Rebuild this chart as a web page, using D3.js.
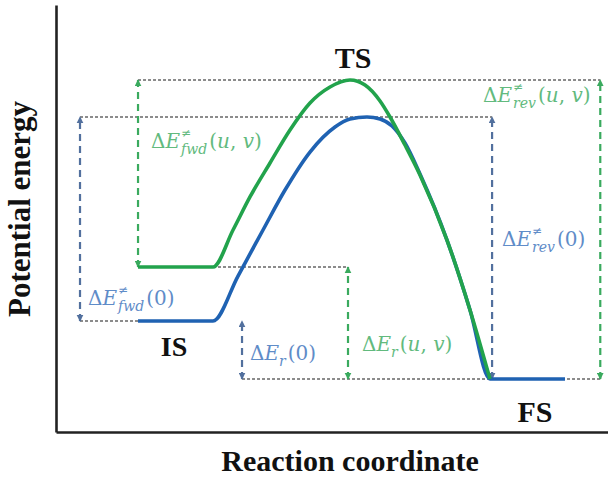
<!DOCTYPE html>
<html><head><meta charset="utf-8">
<script src="https://cdn.jsdelivr.net/npm/d3@7"></script>
<style>body{margin:0;background:#fff}</style></head><body>
<svg id="c" width="608" height="477"></svg>
<script>
// ---- data ----
const xTitle = "Reaction coordinate";
const yTitle = "Potential energy";
const stateNames = ["IS", "TS", "FS"];
// blue curve (u,v = 0)
const blueX = [14.86, 28.44, 32.97, 37.5, 41.49, 46.01, 50.54, 53.26, 56.34, 58.70, 60.87, 63.22, 65.94, 70.83, 75.0, 78.62, 92.21];
const blueE = [26.0, 26.0, 36.53, 47.31, 56.67, 65.57, 71.43, 73.30, 73.77, 73.30, 71.66, 67.68, 60.42, 44.96, 28.57, 12.41, 12.41];
// green curve (u,v)
const greenX = [14.86, 28.44, 32.07, 35.14, 38.77, 42.39, 46.01, 49.64, 53.26, 55.98, 58.70, 60.51, 63.22, 65.94, 70.83, 75.0, 78.62];
const greenE = [38.64, 38.64, 47.31, 55.04, 63.0, 70.73, 77.05, 80.80, 82.44, 81.26, 77.52, 73.77, 67.21, 60.19, 44.96, 28.57, 12.41];
// arrows: x position, from level, to level
const arrowSeries = ["blue", "green", "blue", "green", "blue", "green"];
const arrowX = [4.35, 14.86, 33.7, 52.9, 79.0, 98.6];
const arrowFrom = [26.0, 38.64, 12.41, 12.41, 12.41, 12.41];
const arrowTo = [73.77, 82.44, 26.0, 38.64, 73.77, 82.44];
// dotted reference lines
const refE = [82.44, 73.77, 38.64, 26.0, 12.41];
const refX0 = [14.86, 4.35, 28.44, 4.35, 33.7];
const refX1 = [98.6, 79.0, 52.9, 14.86, 98.6];
// labels
const labelSup = ["≠", "≠", "", "", "≠", "≠"];
const labelSub = ["fwd", "fwd", "r", "r", "rev", "rev"];
const labelArg = ["uv", "0", "0", "uv", "uv", "0"];
const labelSeries = ["green", "blue", "blue", "green", "green", "blue"];

// ---- layout ----
const svg = d3.select("#c");
const x = d3.scaleLinear().domain([0, 100]).range([56, 608]);
const y = d3.scaleLinear().domain([0, 100]).range([432, 5]);
const col = {blue: "#1f62b2", green: "#22a34c"};
const dashCol = {blue: "#52709e", green: "#3aaa5e"};
const txtCol = {blue: "#5f8cc8", green: "#62ba7e"};

const defs = svg.append("defs");
["blue", "green"].forEach(k => {
  defs.append("marker").attr("id", "ah-" + k)
    .attr("viewBox", "0 0 10 10").attr("refX", 9).attr("refY", 5)
    .attr("markerWidth", 3).attr("markerHeight", 3.2)
    .attr("markerUnits", "strokeWidth")
    .attr("orient", "auto-start-reverse")
    .append("path").attr("d", "M0,0L10,5L0,10z").attr("fill", dashCol[k]);
});

// dotted reference lines
svg.append("g").selectAll("line").data(refE).join("line")
  .attr("x1", (d, i) => x(refX0[i])).attr("x2", (d, i) => x(refX1[i]))
  .attr("y1", d => y(d)).attr("y2", d => y(d))
  .attr("stroke", "#666").attr("stroke-width", 1.6).attr("stroke-dasharray", "3,2");

// vertical dashed arrows
svg.append("g").selectAll("line").data(arrowX).join("line")
  .attr("x1", d => x(d)).attr("x2", d => x(d))
  .attr("y1", (d, i) => y(arrowFrom[i])).attr("y2", (d, i) => y(arrowTo[i]))
  .attr("stroke", (d, i) => dashCol[arrowSeries[i]]).attr("stroke-width", 2.2)
  .attr("stroke-dasharray", "7,5")
  .attr("marker-start", (d, i) => `url(#ah-${arrowSeries[i]})`)
  .attr("marker-end", (d, i) => `url(#ah-${arrowSeries[i]})`);

// curves
const line = d3.line().x(d => x(d[0])).y(d => y(d[1])).curve(d3.curveMonotoneX);
svg.append("path").datum(blueX.map((v, i) => [v, blueE[i]]))
  .attr("d", line).attr("fill", "none").attr("stroke", col.blue).attr("stroke-width", 3.6);
svg.append("path").datum(greenX.map((v, i) => [v, greenE[i]]))
  .attr("d", line).attr("fill", "none").attr("stroke", col.green).attr("stroke-width", 3.6);

// axes
svg.append("g").attr("transform", `translate(${x(0)},0)`)
  .call(d3.axisLeft(y).ticks(0).tickSize(0).tickSizeOuter(0))
  .call(g => g.select(".domain").attr("stroke", "#222").attr("stroke-width", 2.6));
svg.append("g").attr("transform", `translate(0,${y(0)})`)
  .call(d3.axisBottom(x).ticks(0).tickSize(0).tickSizeOuter(0))
  .call(g => g.select(".domain").attr("stroke", "#222").attr("stroke-width", 2.6));

// titles
const serif = "'Liberation Serif', 'Times New Roman', serif";
svg.append("text").attr("x", 350).attr("y", 471).attr("text-anchor", "middle")
  .style("font-family", serif).style("font-weight", "bold").style("font-size", "30px")
  .attr("fill", "#111").text(xTitle);
svg.append("text").attr("transform", "translate(30,209) rotate(-90)").attr("text-anchor", "middle")
  .style("font-family", serif).style("font-weight", "bold").style("font-size", "31px")
  .attr("fill", "#111").text(yTitle);

// state labels
const statePos = [[174, 356, 28], [353, 68, 30], [535, 422, 30]];
svg.append("g").selectAll("text").data(stateNames).join("text")
  .attr("x", (d, i) => statePos[i][0]).attr("y", (d, i) => statePos[i][1])
  .attr("text-anchor", "middle")
  .style("font-family", serif).style("font-weight", "bold")
  .style("font-size", (d, i) => statePos[i][2] + "px")
  .attr("fill", "#111").text(d => d);

// math labels (single text element each, with stacked sup/sub)
const mathFont = "'DejaVu Serif', serif";
const labelPos = [[151, 148], [88, 305], [250, 360], [362, 351], [483, 102], [502, 246]];
const fs = 20;
function measure(str, size, italic) {
  const t = svg.append("text").style("font-family", mathFont).style("font-size", size + "px")
    .style("font-style", italic ? "italic" : "normal").text(str);
  const w = str ? t.node().getComputedTextLength() : 0;
  t.remove();
  return w;
}
function mathLabel(i) {
  const [lx, ly] = labelPos[i];
  const t = svg.append("text").attr("x", lx).attr("y", ly)
    .attr("fill", txtCol[labelSeries[i]])
    .style("font-family", mathFont).style("font-size", fs + "px");
  t.append("tspan").text("Δ");
  t.append("tspan").style("font-style", "italic").text("E");
  const ws = measure(labelSup[i], 12, false);
  const wb = measure(labelSub[i], 14, true);
  let rise = 0;
  if (labelSup[i]) {
    t.append("tspan").attr("dx", 1).attr("dy", -11).style("font-size", "12px").text(labelSup[i]);
    rise = -11;
  }
  t.append("tspan").attr("dx", labelSup[i] ? -ws : 0).attr("dy", 6 - rise)
    .style("font-size", "14px").style("font-style", "italic").text(labelSub[i]);
  const pad = Math.max(ws, wb) - wb + 2;
  t.append("tspan").attr("dx", pad).attr("dy", -6).text("(");
  if (labelArg[i] === "uv") {
    t.append("tspan").style("font-style", "italic").text("u");
    t.append("tspan").text(", ");
    t.append("tspan").style("font-style", "italic").text("v");
  } else {
    t.append("tspan").text("0");
  }
  t.append("tspan").text(")");
}
labelSup.forEach((d, i) => mathLabel(i));
</script>
</body></html>
